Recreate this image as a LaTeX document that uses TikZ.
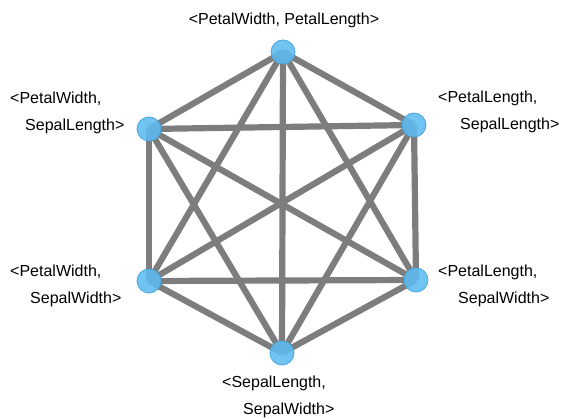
\documentclass[tikz,border=0pt]{standalone}
\usepackage{fontspec}
\setmainfont{Liberation Sans}
\definecolor{dotblue}{HTML}{5DBBF0}
\definecolor{dotrim}{HTML}{4AA6DE}
\definecolor{edgegray}{HTML}{7D7D7D}
\tikzset{feature/.style={circle,draw=dotrim,fill=dotblue,fill opacity=0.88,line width=0.8pt,minimum size=24pt,inner sep=0pt}}
\tikzset{pairtext/.style={font=\fontsize{16}{27}\selectfont,align=left,inner sep=0pt}}
\tikzset{link/.style={draw=edgegray,line width=6.2pt}}

\begin{document}
\begin{tikzpicture}[x=1pt,y=-1pt]
        \useasboundingbox (0,0) rectangle (569,419);
        % the six feature pairs
        \coordinate (pwpl) at (283,52);
        \coordinate (pwsl) at (149,129);
        \coordinate (plsl) at (414,125);
        \coordinate (pwsw) at (149,281);
        \coordinate (plsw) at (416,280);
        \coordinate (slsw) at (282,353);
        % every pair is linked to every other one
        \foreach \a/\b in {pwpl/pwsl,pwpl/plsl,pwpl/pwsw,pwpl/plsw,pwpl/slsw,
                           pwsl/plsl,pwsl/pwsw,pwsl/plsw,pwsl/slsw,
                           plsl/pwsw,plsl/plsw,plsl/slsw,
                           pwsw/plsw,pwsw/slsw,
                           plsw/slsw}
            \path[link] (\a) -- (\b);
        \node[feature] (n1) at (pwpl) {};
        \node[feature] (n2) at (pwsl) {};
        \node[feature] (n3) at (plsl) {};
        \node[feature] (n4) at (pwsw) {};
        \node[feature] (n5) at (plsw) {};
        \node[feature] (n6) at (slsw) {};
        % labels
        \node[pairtext,anchor=center] (t1) at (284,20) {<PetalWidth, PetalLength>};
        \node[pairtext,anchor=west] (t2) at (10,113) {<PetalWidth,\\\hspace*{15pt}SepalLength>};
        \node[pairtext,anchor=west] (t3) at (438,112) {<PetalLength,\\\hspace*{22pt}SepalLength>};
        \node[pairtext,anchor=west] (t4) at (10,286) {<PetalWidth,\\\hspace*{20pt}SepalWidth>};
        \node[pairtext,anchor=west] (t5) at (438,286) {<PetalLength,\\\hspace*{20pt}SepalWidth>};
        \node[pairtext,anchor=west] (t6) at (222,397) {<SepalLength,\\\hspace*{21pt}SepalWidth>};
    \end{tikzpicture}
\end{document}
